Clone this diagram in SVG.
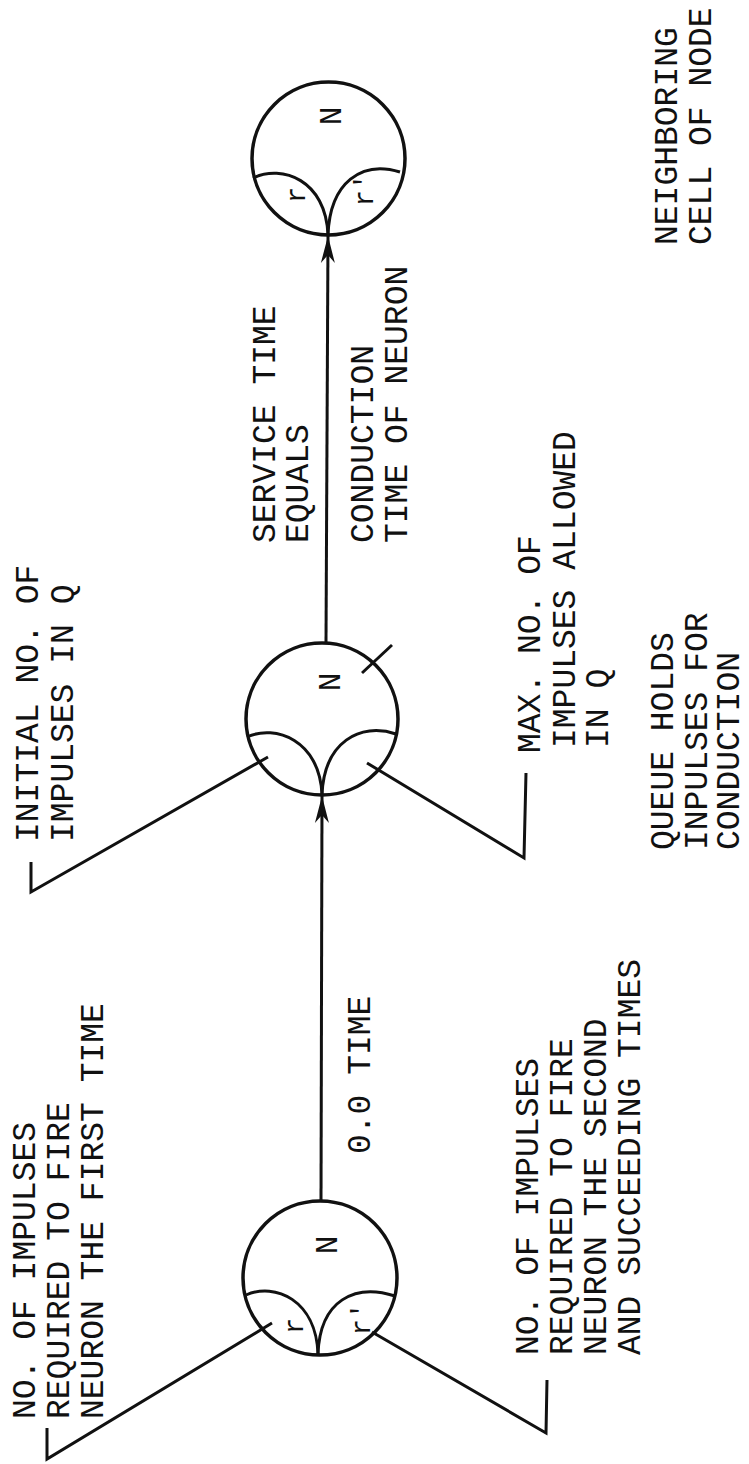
<svg xmlns="http://www.w3.org/2000/svg" width="749" height="1464" viewBox="0 0 749 1464">
<style>
.t{font-family:"Liberation Mono","Courier New",monospace;font-size:33px;fill:#111}
.n{font-family:"Liberation Mono","Courier New",monospace;font-size:31px;fill:#111;text-anchor:middle}
.r{font-family:"Liberation Mono","Courier New",monospace;font-size:27px;fill:#111;text-anchor:middle}
.c{fill:none;stroke:#111;stroke-width:3.5}
.l{fill:none;stroke:#111;stroke-width:3}
</style>
<defs>
<marker id="ah" markerUnits="userSpaceOnUse" markerWidth="30" markerHeight="18" viewBox="-28 -9 30 18" refX="0" refY="0" orient="auto">
<path d="M0,0 L-27,-7 L-19,0 L-27,7 Z" fill="#111"/>
</marker>
</defs>
<rect width="749" height="1464" fill="#fff"/>

<g id="node1">
<circle class="c" cx="320" cy="1278" r="77"/>
<path class="l" d="M246,1295 C275,1282 316,1300 318,1354"/>
<path class="l" d="M318,1354 C320,1300 355,1283 395,1296"/>
<text class="n" transform="translate(337,1245) rotate(-90)">N</text>
<text class="r" transform="translate(303,1326) rotate(-90)">r</text>
<text class="r" transform="translate(370,1319) rotate(-90)">r'</text>
</g>

<g id="node2">
<circle class="c" cx="322" cy="719" r="76"/>
<path class="l" d="M247,737 C275,724 320,740 322,795"/>
<path class="l" d="M322,795 C324,742 360,722 396,734"/>
<line class="l" x1="362" y1="673" x2="392" y2="645"/>
<text class="n" transform="translate(340,682) rotate(-90)">N</text>
</g>

<g id="node3">
<circle class="c" cx="328.5" cy="158.5" r="76.5"/>
<path class="l" d="M253,178 C282,164 326,180 328,235"/>
<path class="l" d="M328,235 C330,182 362,160 400,172"/>
<text class="n" transform="translate(341,116) rotate(-90)">N</text>
<text class="r" transform="translate(305,195) rotate(-90)">r</text>
<text class="r" transform="translate(373,190) rotate(-90)">r'</text>
</g>

<g id="connectors">
<line class="l" x1="321" y1="1201" x2="322" y2="796" marker-end="url(#ah)"/>
<line class="l" x1="326" y1="642" x2="328" y2="236" marker-end="url(#ah)"/>
<polyline class="l" points="47,1428 47,1459 272,1323"/>
<polyline class="l" points="547,1380 546,1433 372,1332"/>
<polyline class="l" points="31,862 31,892 268,757"/>
<polyline class="l" points="526,773 524,858 367,763"/>
</g>

<g id="label-first-time">
<text class="t" transform="translate(35,1419) rotate(-90)">NO. OF IMPULSES</text>
<text class="t" transform="translate(69,1419) rotate(-90)">REQUIRED TO FIRE</text>
<text class="t" transform="translate(103,1419) rotate(-90)">NEURON THE FIRST TIME</text>
</g>
<g id="label-zero-time">
<text class="t" transform="translate(370,1154) rotate(-90)">0.0 TIME</text>
</g>
<g id="label-second-time">
<text class="t" transform="translate(538,1355) rotate(-90)">NO. OF IMPULSES</text>
<text class="t" transform="translate(572,1355) rotate(-90)">REQUIRED TO FIRE</text>
<text class="t" transform="translate(606,1355) rotate(-90)">NEURON THE SECOND</text>
<text class="t" transform="translate(640,1355) rotate(-90)">AND SUCCEEDING TIMES</text>
</g>
<g id="label-initial">
<text class="t" transform="translate(38,842) rotate(-90)">INITIAL NO. OF</text>
<text class="t" transform="translate(73,842) rotate(-90)">IMPULSES IN Q</text>
</g>
<g id="label-max">
<text class="t" transform="translate(540,753) rotate(-90)">MAX. NO. OF</text>
<text class="t" transform="translate(575,748) rotate(-90)">IMPULSES ALLOWED</text>
<text class="t" transform="translate(608,748) rotate(-90)">IN Q</text>
</g>
<g id="label-queue">
<text class="t" transform="translate(673,850) rotate(-90)">QUEUE HOLDS</text>
<text class="t" transform="translate(707,850) rotate(-90)">INPULSES FOR</text>
<text class="t" transform="translate(739,850) rotate(-90)">CONDUCTION</text>
</g>
<g id="label-service">
<text class="t" transform="translate(275,543) rotate(-90)">SERVICE TIME</text>
<text class="t" transform="translate(308,543) rotate(-90)">EQUALS</text>
<text class="t" transform="translate(373,543) rotate(-90)">CONDUCTION</text>
<text class="t" transform="translate(407,543) rotate(-90)">TIME OF NEURON</text>
</g>
<g id="label-neighbor">
<text class="t" transform="translate(677,245) rotate(-90)">NEIGHBORING</text>
<text class="t" transform="translate(711,245) rotate(-90)">CELL OF NODE</text>
</g>
</svg>
